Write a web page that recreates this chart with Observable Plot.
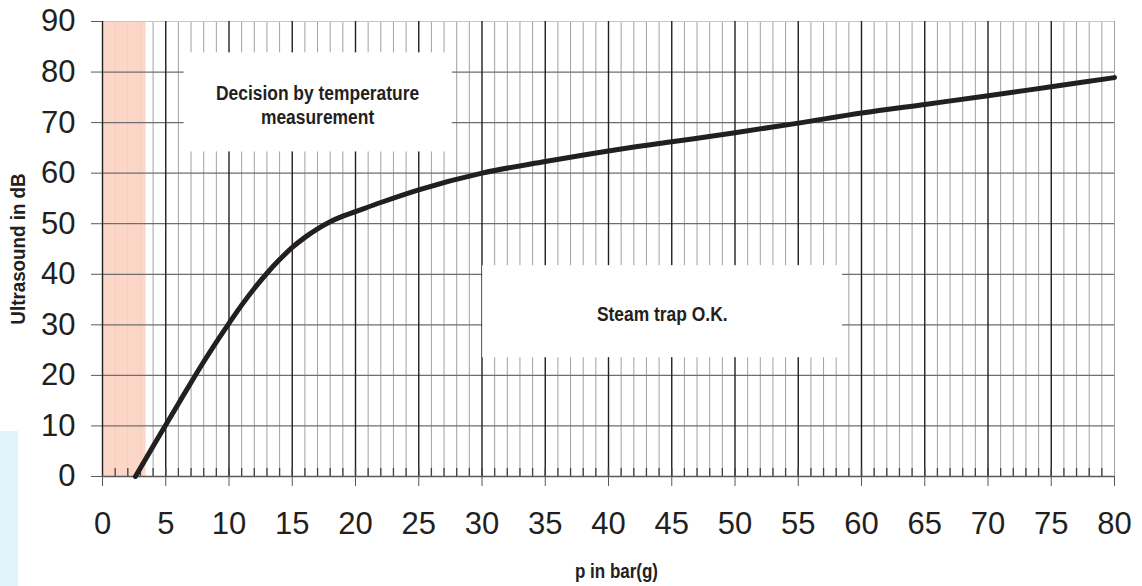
<!DOCTYPE html>
<html>
<head>
<meta charset="utf-8">
<script src="https://cdn.jsdelivr.net/npm/d3@7"></script>
<script src="https://cdn.jsdelivr.net/npm/@observablehq/plot@0.6"></script>
<style>
  html, body { margin: 0; padding: 0; background: #ffffff; }
  #wrap { position: relative; width: 1142px; height: 586px; }
  #strip { position: absolute; left: 0; top: 431px; width: 18px; height: 155px; background: #e1f3fb; z-index: 0; }
  #chart { position: absolute; left: 0; top: 0; z-index: 1; }
  #chart svg { background: transparent; }
</style>
</head>
<body>
<div id="wrap"><div id="strip"></div><div id="chart"></div></div>
<script>
// Curve: pressure (bar g) vs ultrasound (dB)
const pressure   = [2.6, 4, 5, 6, 7, 8, 9, 10, 11, 12, 13, 14, 15, 16, 17, 18, 19, 20, 22, 25, 30, 35, 40, 45, 50, 55, 60, 65, 70, 75, 80];
const ultrasound = [0, 6.0, 10.2, 14.4, 18.6, 22.7, 26.6, 30.3, 33.9, 37.2, 40.2, 42.9, 45.3, 47.3, 49.0, 50.4, 51.5, 52.4, 54.2, 56.7, 60, 62.3, 64.4, 66.2, 68, 69.9, 71.9, 73.6, 75.3, 77.1, 78.9];

// Tick values
const xTicks = [0, 5, 10, 15, 20, 25, 30, 35, 40, 45, 50, 55, 60, 65, 70, 75, 80];
const yTicks = [0, 10, 20, 30, 40, 50, 60, 70, 80, 90];
const xMinor = d3.range(1, 81).filter(v => v % 5 !== 0 || v === 80);
const xMajor = [5, 10, 15, 20, 25, 30, 35, 40, 45, 50, 55, 60, 65, 70, 75];
const xSmall = d3.range(1, 80);

// Zones and annotation boxes
const zoneLabels = ["low"];
const zoneX1 = [0];
const zoneX2 = [3.45];
const boxLabels = ["Decision by temperature\nmeasurement", "Steam trap O.K."];
const boxX1 = [6.45, 30.05];
const boxX2 = [27.65, 58.5];
const boxY1 = [64.2, 23.5];
const boxY2 = [83.8, 41.7];
const boxTextX = [17, 44.25];
const boxTextY = [73.6, 32.3];

const curve = pressure.map((p, i) => ({p, u: ultrasound[i]}));
const zones = zoneLabels.map((z, i) => ({x1: zoneX1[i], x2: zoneX2[i]}));
const boxes = boxLabels.map((t, i) => ({t, x1: boxX1[i], x2: boxX2[i], y1: boxY1[i], y2: boxY2[i], tx: boxTextX[i], ty: boxTextY[i]}));

const ink = "#231f20";
const font = "'Liberation Sans', Arial, Helvetica, sans-serif";

const chart = Plot.plot({
  width: 1142,
  height: 586,
  marginLeft: 102,
  marginRight: 28,
  marginTop: 21,
  marginBottom: 110,
  style: {fontFamily: font, fontSize: "31px", color: ink, background: "transparent"},
  x: {domain: [0, 80]},
  y: {domain: [0, 90]},
  marks: [
    Plot.ruleX(xMinor, {stroke: "#9fa1a4", strokeWidth: 1}),
    Plot.rectX(zones, {x1: "x1", x2: "x2", y1: 0, y2: 90, fill: "#fcd3c1", fillOpacity: 0.9}),
    Plot.ruleY(yTicks.filter(v => v > 0 && v < 90), {stroke: "#6d6e71", strokeWidth: 1.3}),
    Plot.ruleY([90], {stroke: "#c4c6c8", strokeWidth: 1.2}),
    Plot.ruleX(xMajor, {stroke: ink, strokeWidth: 1.4}),
    Plot.rect(boxes, {x1: "x1", x2: "x2", y1: "y1", y2: "y2", fill: "white"}),
    Plot.ruleX(xSmall, {y1: 0, y2: 1.6, stroke: "#414042", strokeWidth: 1.3}),
    Plot.ruleX([0], {stroke: ink, strokeWidth: 1.4}),
    Plot.ruleY([0], {stroke: "#58595b", strokeWidth: 1.4}),
    Plot.axisX({ticks: xTicks, tickSize: 10, tickPadding: 25, tickFormat: d => String(d), stroke: "#58595b", fontSize: 31, fill: ink, label: null}),
    Plot.axisY({ticks: yTicks, tickSize: 11, tickPadding: 16, tickFormat: d => String(d), stroke: "#58595b", fontSize: 31, fill: ink, label: null}),
    Plot.line(curve, {x: "p", y: "u", stroke: ink, strokeWidth: 5, curve: "monotone-x", strokeLinecap: "round", strokeLinejoin: "round"}),
    Plot.text(boxes, {x: "tx", y: "ty", text: "t", fontWeight: "bold", fontSize: 20.5, lineHeight: 1.14, fill: ink}),
    Plot.text(["Ultrasound in dB"], {frameAnchor: "left", dx: -84, rotate: -90, textAnchor: "middle", text: d => d, fontWeight: "bold", fontSize: 20, fill: ink}),
    Plot.text(["p in bar(g)"], {frameAnchor: "bottom", dx: 8, dy: 95, lineAnchor: "middle", text: d => d, fontWeight: "bold", fontSize: 20, fill: ink})
  ]
});

// Condense the bold labels horizontally (narrow typeface look)
const condenseRules = [
  {starts: "Decision", s: 0.85, size: 20.5},
  {starts: "Steam", s: 0.85, size: 20.5},
  {starts: "Ultrasound", s: 0.94, size: 20},
  {starts: "p in bar", s: 0.85, size: 20}
];
d3.select(chart).selectAll("text").each(function () {
  const txt = this.textContent || "";
  const rule = condenseRules.find(r => txt.startsWith(r.starts));
  if (!rule) return;
  const t = this.getAttribute("transform");
  if (t && t.includes("translate")) this.setAttribute("transform", t + ` scale(${rule.s},1)`);
  else this.setAttribute("font-size", rule.size * rule.s);
});

document.getElementById("chart").appendChild(chart);
</script>
</body>
</html>
